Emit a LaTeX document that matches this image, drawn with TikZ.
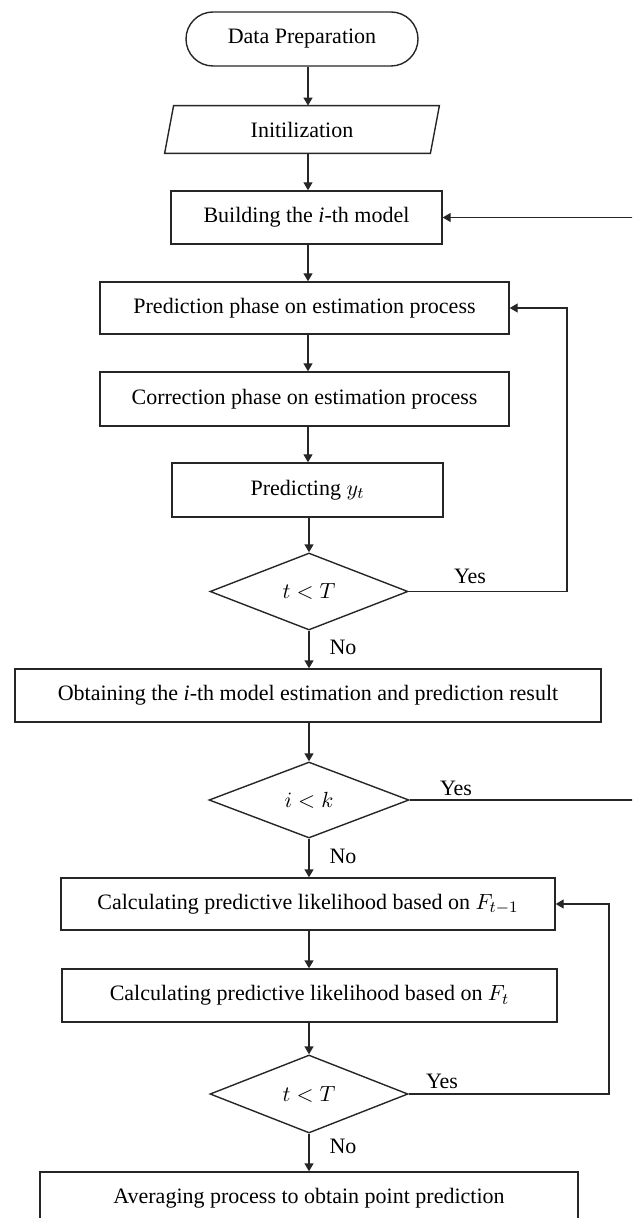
\documentclass[tikz,border=0pt]{standalone}
\usepackage{fontspec}
\setmainfont{Liberation Serif}
\usetikzlibrary{shapes.geometric,shapes.misc,arrows.meta}
\begin{document}
\begin{tikzpicture}[x=0.5pt,y=-0.5pt,
  every node/.style={font=\fontsize{11}{13}\selectfont},
  sz/.style 2 args={minimum width=#1*0.5pt, minimum height=#2*0.5pt},
  box/.style={draw=black!85, line width=0.7pt, rectangle, inner sep=0pt},
  term/.style={draw=black!85, line width=0.7pt, rounded rectangle, inner sep=0pt},
  dec/.style={draw=black!85, line width=0.7pt, diamond, inner sep=0pt},
  lbl/.style={inner sep=0pt},
  arr/.style={-{Triangle[length=4pt,width=4.5pt]}, line width=0.7pt, draw=black!85},
  ln/.style={line width=0.7pt, draw=black!85}]
\useasboundingbox (0,0) rectangle (632,1218);
\clip (0,0) rectangle (632,1218);
\coordinate (axis) at (308,0);
\coordinate (loopA) at (567,0);
\coordinate (loopB) at (645,0);
\coordinate (loopC) at (609,0);

\node[term, sz={232}{54}] (dp) at (302,39) {Data Preparation};
\node[inner sep=0pt, sz={265}{47}] (init) at (302,129.5) {Initilization};
\draw[ln] ([xshift=2.25pt]init.north west) -- ([xshift=2.25pt]init.north east)
  -- ([xshift=-2.25pt]init.south east) -- ([xshift=-2.25pt]init.south west) -- cycle;
\node[box, sz={271}{53}] (build) at (306.5,217.5) {Building the \textit{i}-th model};
\node[box, sz={409}{52}] (pred) at (304.5,308) {Prediction phase on estimation process};
\node[box, sz={409}{54}] (corr) at (304.5,399) {Correction phase on estimation process};
\node[box, sz={271}{54}] (ypred) at (307.5,490) {Predicting $y_t$};
\node[dec, sz={198}{77}] (d1) at (309,591.5) {$t<T$};
\node[box, sz={586}{53}] (obt) at (308,695.5) {Obtaining the \textit{i}-th model estimation and prediction result};
\node[dec, sz={200}{76}] (d2) at (309,800) {$i<k$};
\node[box, sz={494}{52}] (c1) at (308,904) {Calculating predictive likelihood based on $F_{t-1}$};
\node[box, sz={495}{53}] (c2) at (309.5,995.5) {Calculating predictive likelihood based on $F_t$};
\node[dec, sz={198}{78}] (d3) at (309,1094) {$t<T$};
\node[box, sz={538}{52}] (avg) at (309,1198) {Averaging process to obtain point prediction};

\draw[arr] (dp.south -| axis) -- (init.north -| axis);
\draw[arr] (init.south -| axis) -- (build.north -| axis);
\draw[arr] (build.south -| axis) -- (pred.north -| axis);
\draw[arr] (pred.south -| axis) -- (corr.north -| axis);
\draw[arr] (corr.south -| axis) -- (ypred.north -| axis);
\draw[arr] (ypred.south -| d1) -- (d1.north);
\draw[arr] (d1.south) -- (obt.north -| d1);
\draw[arr] (obt.south -| d2) -- (d2.north);
\draw[arr] (d2.south) -- (c1.north -| d2);
\draw[arr] (c1.south -| d2) -- (c2.north -| d2);
\draw[arr] (c2.south -| d3) -- (d3.north);
\draw[arr] (d3.south) -- (avg.north -| d3);

\draw[arr] (d1.east) -- (d1.east -| loopA) |- (pred.east);
\draw[arr] (d2.east) -- (d2.east -| loopB) |- (build.east);
\draw[arr] (d3.east) -- (d3.east -| loopC) |- (c1.east);

\node[lbl] (y1) at (470,576) {Yes};
\node[lbl] (n1) at (343,647) {No};
\node[lbl] (y2) at (456,788) {Yes};
\node[lbl] (n2) at (343,856) {No};
\node[lbl] (y3) at (442,1081) {Yes};
\node[lbl] (n3) at (343,1146) {No};
\end{tikzpicture}
\end{document}
